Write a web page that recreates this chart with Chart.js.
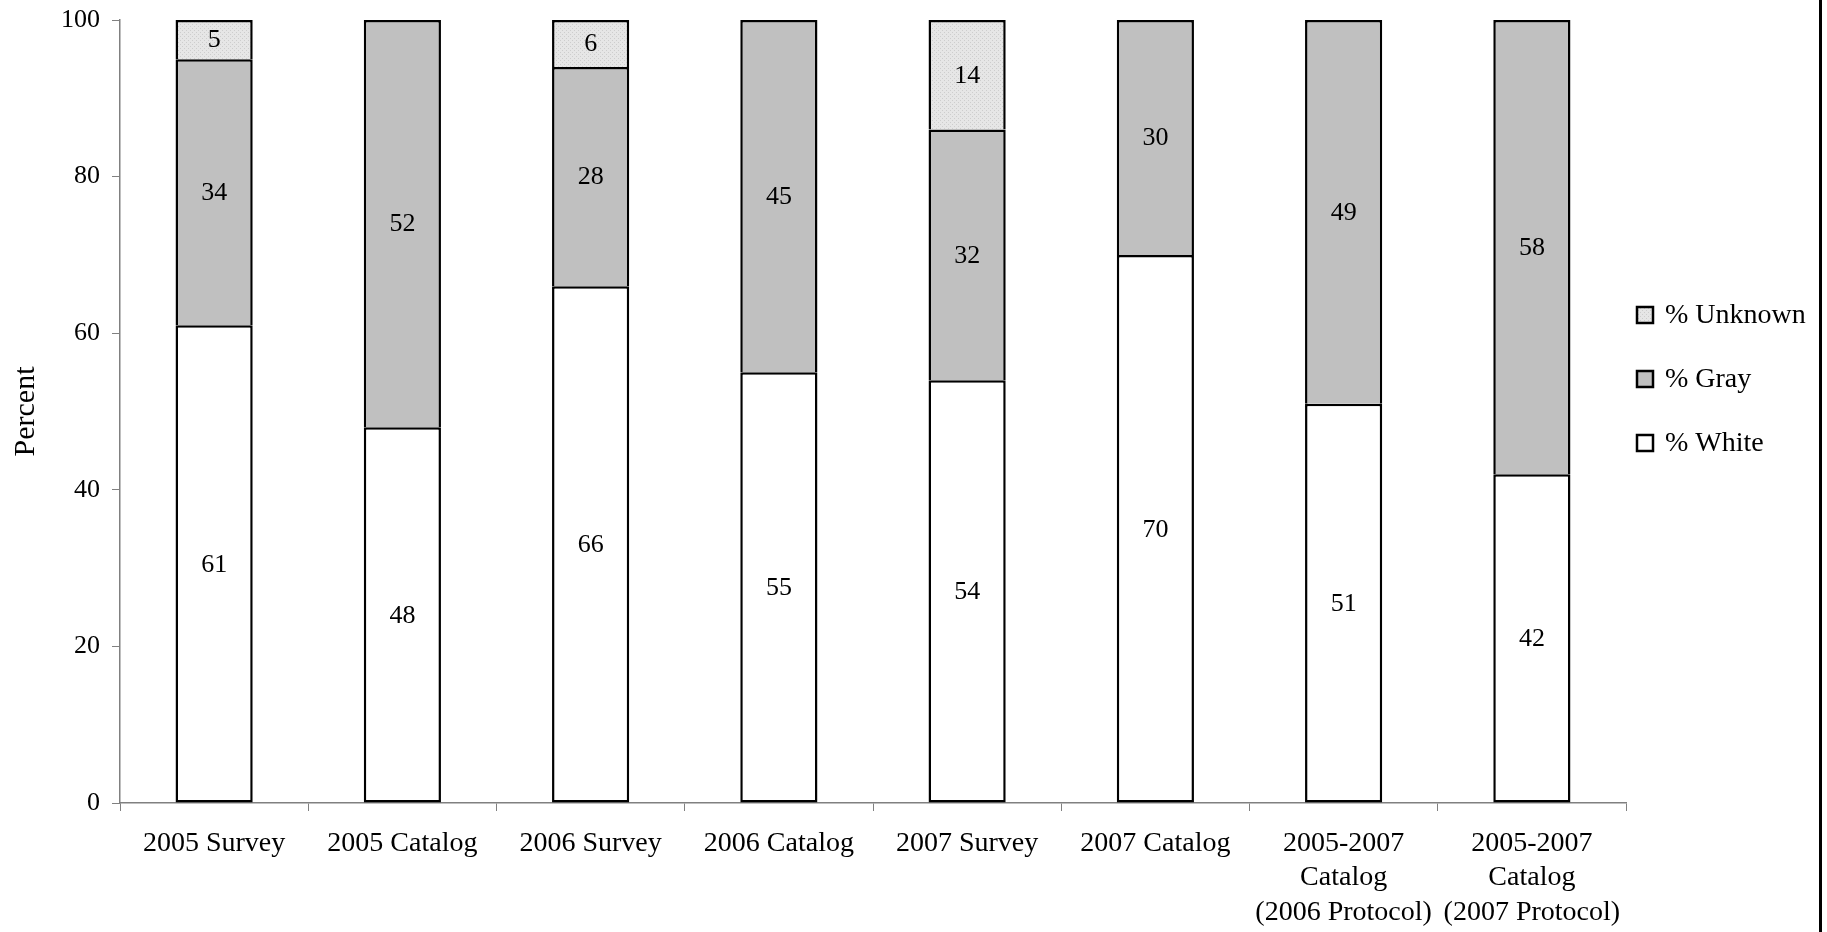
<!DOCTYPE html>
<html>
<head>
<meta charset="utf-8">
<script src="https://cdn.jsdelivr.net/npm/chart.js@4.4.0/dist/chart.umd.min.js"></script>
<style>
  html, body { margin: 0; padding: 0; background: #fff; }
  #wrap { position: relative; width: 1827px; height: 932px; }
  #edge { position: absolute; left: 1819px; top: 0; width: 3px; height: 932px; background: #000; }
</style>
</head>
<body>
<div id="wrap">
  <canvas id="c"></canvas>
  <div id="edge"></div>
</div>
<script>
const categories = [
  "2005 Survey", "2005 Catalog", "2006 Survey", "2006 Catalog",
  "2007 Survey", "2007 Catalog",
  ["2005-2007", "Catalog", "(2006 Protocol)"],
  ["2005-2007", "Catalog", "(2007 Protocol)"]
];
const whiteValues   = [61, 48, 66, 55, 54, 70, 51, 42];
const grayValues    = [34, 52, 28, 45, 32, 30, 49, 58];
const unknownValues = [5, 0, 6, 0, 14, 0, 0, 0];
const yTicks = [0, 20, 40, 60, 80, 100];
const seriesNames = ["% White", "% Gray", "% Unknown"];

const FONT = "'Liberation Serif', 'Times New Roman', serif";

// dotted fill pattern for "Unknown"
function makePattern() {
  const p = document.createElement('canvas');
  p.width = 4; p.height = 4;
  const g = p.getContext('2d');
  g.fillStyle = '#e6e6e6';
  g.fillRect(0, 0, 4, 4);
  g.fillStyle = '#cdcdcd';
  g.fillRect(0, 0, 1, 1);
  g.fillRect(2, 2, 1, 1);
  return g.createPattern(p, 'repeat');
}
const ctx = document.getElementById('c').getContext('2d');
const unknownFill = makePattern();

const valueLabels = {
  id: 'valueLabels',
  afterDatasetsDraw(chart) {
    const c = chart.ctx;
    c.save();
    c.font = '26px ' + FONT;
    c.fillStyle = '#000';
    c.textAlign = 'center';
    c.textBaseline = 'middle';
    chart.data.datasets.forEach((ds, di) => {
      const meta = chart.getDatasetMeta(di);
      meta.data.forEach((el, i) => {
        const v = ds.data[i];
        if (!v) return;
        const { x, y, base } = el.getProps(['x', 'y', 'base'], true);
        c.fillText(String(v), x, (y + base) / 2 + 1);
      });
    });
    c.restore();
  }
};

const customLegend = {
  id: 'customLegend',
  afterDraw(chart) {
    const c = chart.ctx;
    const a = chart.chartArea;
    const x0 = a.right + 11;
    const rows = [2, 1, 0];
    const yStart = 315, step = 64;
    c.save();
    c.font = '28px ' + FONT;
    c.textBaseline = 'middle';
    c.textAlign = 'left';
    rows.forEach((di, k) => {
      const ds = chart.data.datasets[di];
      const yc = yStart + k * step;
      c.fillStyle = ds.backgroundColor;
      c.fillRect(x0, yc - 8, 16, 16);
      c.lineWidth = 2.5;
      c.strokeStyle = '#000';
      c.strokeRect(x0, yc - 8, 16, 16);
      c.fillStyle = '#000';
      c.fillText(ds.label, x0 + 28, yc + 1);
    });
    c.restore();
  }
};

new Chart(ctx, {
  type: 'bar',
  data: {
    labels: categories,
    datasets: [
      { label: seriesNames[0], data: whiteValues, backgroundColor: '#ffffff', borderColor: '#000', borderWidth: 2.5, borderSkipped: false },
      { label: seriesNames[1], data: grayValues, backgroundColor: '#c0c0c0', borderColor: '#000', borderWidth: 2.5, borderSkipped: 'start' },
      { label: seriesNames[2], data: unknownValues, backgroundColor: unknownFill, borderColor: '#000', borderWidth: 2.5, borderSkipped: 'start' }
    ]
  },
  options: {
    responsive: true,
    maintainAspectRatio: false,
    animation: false,
    devicePixelRatio: 1,
    layout: { padding: { left: 0, right: 201, top: 0, bottom: 0 } },
    datasets: { bar: { categoryPercentage: 1.0, barPercentage: 0.41 } },
    plugins: {
      legend: { display: false },
      tooltip: { enabled: false }
    },
    scales: {
      x: {
        stacked: true,
        grid: { display: true, drawOnChartArea: false, drawTicks: true, tickLength: 8, color: '#808080', offset: true },
        border: { display: true, color: '#808080', width: 1.5 },
        ticks: {
          autoSkip: false, maxRotation: 0, minRotation: 0, color: '#000', padding: 15,
          font: { family: FONT, size: 28, lineHeight: 1.24 }
        },
        afterFit(scale) { scale.height = 129; }
      },
      y: {
        stacked: true,
        min: 0, max: 100,
        afterBuildTicks(scale) { scale.ticks = yTicks.map(v => ({ value: v })); },
        grid: { display: true, drawOnChartArea: false, drawTicks: true, tickLength: 8, color: '#808080' },
        border: { display: true, color: '#808080', width: 1.5 },
        ticks: { color: '#000', padding: 12, font: { family: FONT, size: 26 } },
        title: { display: true, text: 'Percent', color: '#000', padding: { top: 8, bottom: 0 }, font: { family: FONT, size: 30, lineHeight: 1.2 } },
        afterFit(scale) { scale.width = 120; scale.paddingTop = 20; scale.paddingBottom = 0; }
      }
    }
  },
  plugins: [valueLabels, customLegend]
});
</script>
</body>
</html>
